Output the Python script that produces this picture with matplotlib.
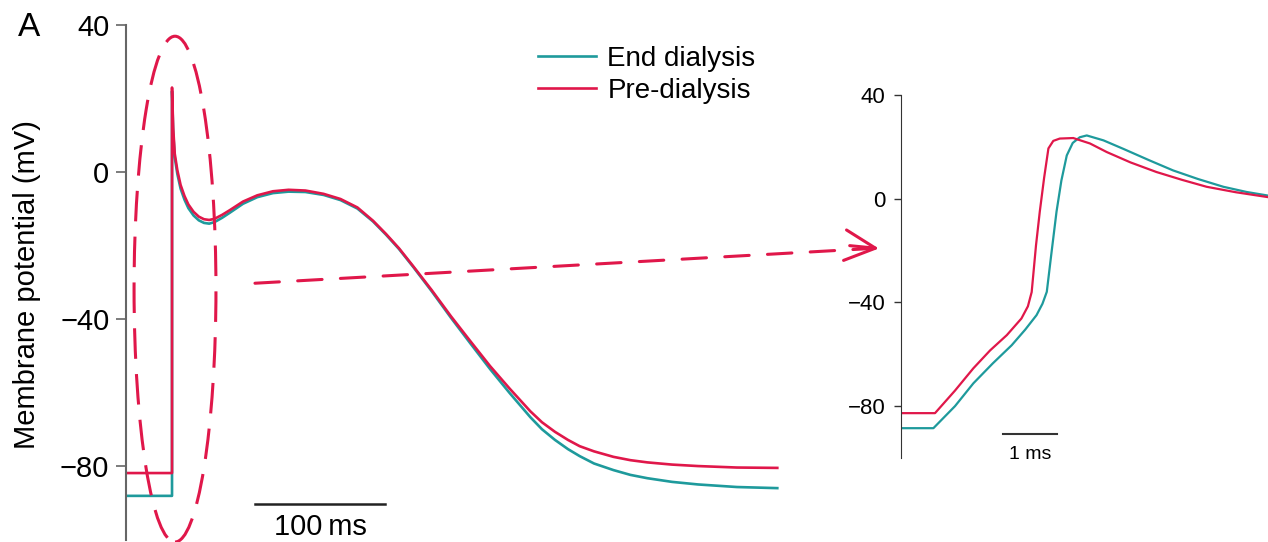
import numpy as np
import matplotlib
matplotlib.use("Agg")
import matplotlib.pyplot as plt
from matplotlib.patches import Ellipse, ConnectionPatch

plt.rcParams['font.family'] = ['Liberation Sans', 'DejaVu Sans']

# 主图：完整动作电位 (时间 ms, 膜电位 mV)
pre_t = [0, 35.4, 35.4, 36.3, 37.5, 39.5, 42, 45, 48, 52, 56, 60, 64, 68, 74, 80, 90, 101,
         113, 125, 138, 152, 165, 178, 190, 200, 210, 221, 235, 250, 265, 280, 295, 311,
         320, 330, 340, 349, 360, 375, 388, 401, 420, 440, 470, 501]
pre_v = [-81.8, -81.8, 23, 12, 5, 0.5, -3.5, -6.5, -8.8, -10.8, -12.1, -12.8, -13, -12.7,
         -11.6, -10.3, -8, -6.3, -5.2, -4.8, -5, -5.9, -7.3, -9.6, -13.2, -16.8, -20.7,
         -25.6, -32, -39.2, -46, -52.7, -58.8, -65, -68, -70.6, -72.8, -74.5, -75.9, -77.4,
         -78.3, -78.9, -79.5, -79.9, -80.3, -80.4]
end_t = pre_t
end_v = [-88, -88, 22, 11, 4, -0.5, -4.5, -7.5, -9.8, -11.8, -13.1, -13.8, -14, -13.6,
         -12.4, -11, -8.6, -6.8, -5.7, -5.3, -5.4, -6.2, -7.6, -9.9, -13.4, -17, -20.9,
         -25.8, -32.3, -39.6, -46.6, -53.5, -60, -66.6, -69.9, -72.8, -75.3, -77.2, -79.2,
         -81, -82.3, -83.2, -84.2, -84.9, -85.6, -85.9]

# 放大图：去极化阶段
pre_t_zoom = [0, 0.63, 1.0, 1.34, 1.65, 1.96, 2.23, 2.35, 2.42, 2.5, 2.57, 2.65, 2.73,
              2.82, 2.94, 3.19, 3.5, 3.81, 4.25, 4.73, 5.2, 5.66, 6.2, 6.8]
pre_v_zoom = [-82.7, -82.7, -74, -65.4, -58.5, -52.6, -46.2, -41.5, -36, -18, -5, 8, 19.4,
              22.3, 23.2, 23.4, 21.3, 18, 14, 10.3, 7.3, 4.6, 2.5, 0.6]
end_t_zoom = [0, 0.6, 1.0, 1.34, 1.7, 2.05, 2.3, 2.51, 2.62, 2.70, 2.78, 2.88, 2.97, 3.07,
              3.18, 3.31, 3.44, 3.75, 4.12, 4.6, 5.04, 5.5, 5.97, 6.4, 6.8]
end_v_zoom = [-88.5, -88.5, -80, -71.2, -63.5, -56.5, -50.5, -44.9, -40.5, -35.9, -22, -5,
              7, 16.7, 21.5, 23.7, 24.4, 22.5, 19.2, 14.8, 10.9, 7.6, 4.6, 2.6, 1.2]

yticks = [40, 0, -40, -80]
labels = ['End dialysis', 'Pre-dialysis']

teal = '#1e9a9c'
red = '#e0174a'
W, H = 1268, 542

fig = plt.figure(figsize=(W / 100, H / 100), dpi=100)

# 主图坐标轴（像素位置换算成比例）
ax = fig.add_axes([126 / W, 2 / H, 676 / W, 515 / H])
ax.plot(end_t, end_v, color=teal, lw=1.9, label=labels[0])
ax.plot(pre_t, pre_v, color=red, lw=1.9, label=labels[1])
ax.set_xlim(0, 520)
ax.set_ylim(-100, 40)
for s in ['top', 'right', 'bottom']:
    ax.spines[s].set_visible(False)
ax.spines['left'].set_color('#666666')
ax.spines['left'].set_linewidth(1.5)
ax.set_xticks([])
ax.set_yticks(yticks)
ax.tick_params(axis='y', length=7, width=1.2, color='#666666', labelsize=21, pad=5)
ax.set_ylabel('Membrane potential (mV)', fontsize=21)
ax.yaxis.set_label_coords(-0.125, 0.496)

# 比例尺 100 ms
ax.plot([99.2, 199.2], [-90.2, -90.2], color='#222222', lw=1.8, clip_on=False)
ax.text(149.2, -96.5, '100\u2009ms', fontsize=21, ha='center', va='center')

# 虚线椭圆
ell = Ellipse((37.7, -31.8), 63, 137.5, fill=False, edgecolor=red, lw=2.2,
              linestyle=(0, (10, 5)), clip_on=False, zorder=5)
ax.add_patch(ell)

ax.legend(loc='upper left', bbox_to_anchor=(538 / W, 1 - 46 / H),
          bbox_transform=fig.transFigure, frameon=False, fontsize=20,
          handlelength=2.1, handletextpad=0.4, labelspacing=0.2,
          borderpad=0, borderaxespad=0)

fig.text(18 / W, 1 - 28 / H, 'A', fontsize=24, ha='left', va='center')

# 放大图
ax2 = fig.add_axes([901 / W, 84 / H, 367 / W, 363 / H])
ax2.plot(end_t_zoom, end_v_zoom, color=teal, lw=1.6)
ax2.plot(pre_t_zoom, pre_v_zoom, color=red, lw=1.6)
ax2.set_xlim(0, 367 / 54)
ax2.set_ylim(-100, 40)
for s in ['top', 'right', 'bottom']:
    ax2.spines[s].set_visible(False)
ax2.spines['left'].set_color('#333333')
ax2.set_xticks([])
ax2.set_yticks(yticks)
ax2.tick_params(axis='y', length=5, width=1, color='#333333', labelsize=16, pad=6)

ax2.plot([1.89, 2.89], [-90.8, -90.8], color='#333333', lw=1.5, clip_on=False)
ax2.text(2.39, -98.5, '1 ms', fontsize=14, ha='center', va='center')

# 虚线箭头：主图 -> 放大图
con = ConnectionPatch(xyA=(99.2, -30.2), coordsA=ax.transData,
                      xyB=(-0.55, -19.2), coordsB=ax2.transData,
                      color=red, lw=2.2, linestyle=(0, (8, 6)))
fig.add_artist(con)
head = ConnectionPatch(xyA=(-0.95, -18.1), coordsA=ax2.transData,
                       xyB=(-0.41, -19.2), coordsB=ax2.transData,
                       color=red, lw=2.2, arrowstyle='->', mutation_scale=20)
head.set_arrowstyle('->', head_length=1.1, head_width=0.55)
fig.add_artist(head)

fig.savefig('out.png', dpi=100)
